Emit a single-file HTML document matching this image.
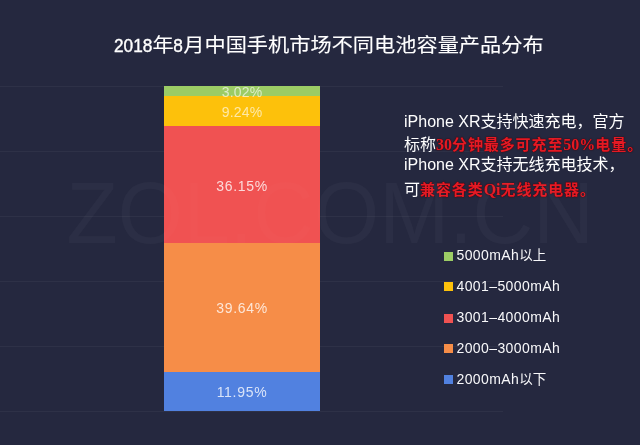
<!DOCTYPE html>
<html lang="zh-CN">
<head>
<meta charset="utf-8">
<title>2018年8月中国手机市场不同电池容量产品分布</title>
<style>
html,body{margin:0;padding:0;}
body{width:640px;height:445px;overflow:hidden;background:#25283f;position:relative;
  font-family:"Liberation Sans","Noto Sans CJK SC",sans-serif;color:#fff;}
.abs{position:absolute;white-space:nowrap;}
.grid{position:absolute;left:0;width:503px;height:1px;background:rgba(255,255,255,0.045);}
.wm{left:66.5px;top:170.5px;font-size:84px;line-height:84px;letter-spacing:0;color:rgba(255,255,255,0.03);z-index:5;transform:scaleY(1.045);transform-origin:0 50%;-webkit-mask-image:linear-gradient(to right,#000 0,#000 97.5px,rgba(0,0,0,0.35) 97.5px,rgba(0,0,0,0.35) 253.5px,#000 253.5px,#000 100%);mask-image:linear-gradient(to right,#000 0,#000 97.5px,rgba(0,0,0,0.35) 97.5px,rgba(0,0,0,0.35) 253.5px,#000 253.5px,#000 100%);}
.title{left:114px;top:32.7px;font-size:19px;line-height:26px;color:#fff;transform:scaleX(1.1158);transform-origin:0 50%;-webkit-text-stroke:0.1px #fff;}
.title .n{display:inline-block;transform:scaleX(0.814);transform-origin:0 50%;-webkit-text-stroke:0.4px #fff;}
.title .n4{margin-right:-7.87px;}
.title .n1{margin-right:-1.97px;}
.seg{position:absolute;left:164px;width:156px;}
.pl6{letter-spacing:0.7px !important;}
.ply{color:rgba(255,255,255,0.64) !important;}
.pl{position:absolute;left:164px;width:156px;text-align:center;font-size:14px;line-height:14px;letter-spacing:0.2px;color:rgba(255,255,255,0.78);}
.note{left:404px;font-size:16px;line-height:22px;color:#fff;}
.red{font-family:"Liberation Serif","Noto Sans CJK SC",sans-serif;font-weight:bold;font-size:15px;letter-spacing:0.9px;color:#e41a24;text-shadow:0 0 1.5px #4a0008,0 0 1px #4a0008;position:relative;top:0px;}
.red u{text-decoration:none;letter-spacing:0;font-size:16px;}
.lg{left:456.5px;font-size:14px;line-height:16px;letter-spacing:0.4px;color:#f8f8fa;}
.sw{position:absolute;left:444px;width:9px;height:9px;}
.lg b{font-weight:normal;letter-spacing:0;font-size:13.5px;}
</style>
</head>
<body>
<div class="grid" style="top:86px"></div>
<div class="grid" style="top:151px"></div>
<div class="grid" style="top:216px"></div>
<div class="grid" style="top:281px"></div>
<div class="grid" style="top:346px"></div>
<div class="grid" style="top:411px"></div>

<div class="seg" style="top:86px;height:9.5px;background:#9ccc65"></div>
<div class="seg" style="top:95.5px;height:30.5px;background:#fdc10b"></div>
<div class="seg" style="top:126px;height:117px;background:#f05252"></div>
<div class="seg" style="top:243px;height:129px;background:#f68d48"></div>
<div class="seg" style="top:372px;height:39px;background:#5181e0"></div>

<div class="pl ply" style="top:84.75px">3.02%</div>
<div class="pl ply" style="top:104.95px">9.24%</div>
<div class="pl pl6" style="top:178.5px">36.15%</div>
<div class="pl pl6" style="top:301.25px">39.64%</div>
<div class="pl pl6" style="top:385.25px">11.95%</div>

<div class="abs wm">ZOL.COM.CN</div>

<div class="abs title"><span class="n n4">2018</span>年<span class="n n1">8</span>月中国手机市场不同电池容量产品分布</div>

<div class="abs note" style="top:111.2px">iPhone XR支持快速充电，官方</div>
<div class="abs note" style="top:134px">标称<span class="red"><u>30</u>分钟最多可充至<u>50%</u>电量。</span></div>
<div class="abs note" style="top:154.4px">iPhone XR支持无线充电技术，</div>
<div class="abs note" style="top:179.1px">可<span class="red">兼容各类<u>Qi</u>无线充电器。</span></div>

<div class="sw" style="top:252px;background:#9ccc65"></div><div class="abs lg" style="top:247.45px">5000mAh<b>以上</b></div>
<div class="sw" style="top:282.4px;background:#fdc10b"></div><div class="abs lg" style="top:277.8px">4001–5000mAh</div>
<div class="sw" style="top:313.6px;background:#f05252"></div><div class="abs lg" style="top:309.15px">3001–4000mAh</div>
<div class="sw" style="top:344.3px;background:#f68d48"></div><div class="abs lg" style="top:340.05px">2000–3000mAh</div>
<div class="sw" style="top:375px;background:#5181e0"></div><div class="abs lg" style="top:370.95px">2000mAh<b>以下</b></div>
</body>
</html>
